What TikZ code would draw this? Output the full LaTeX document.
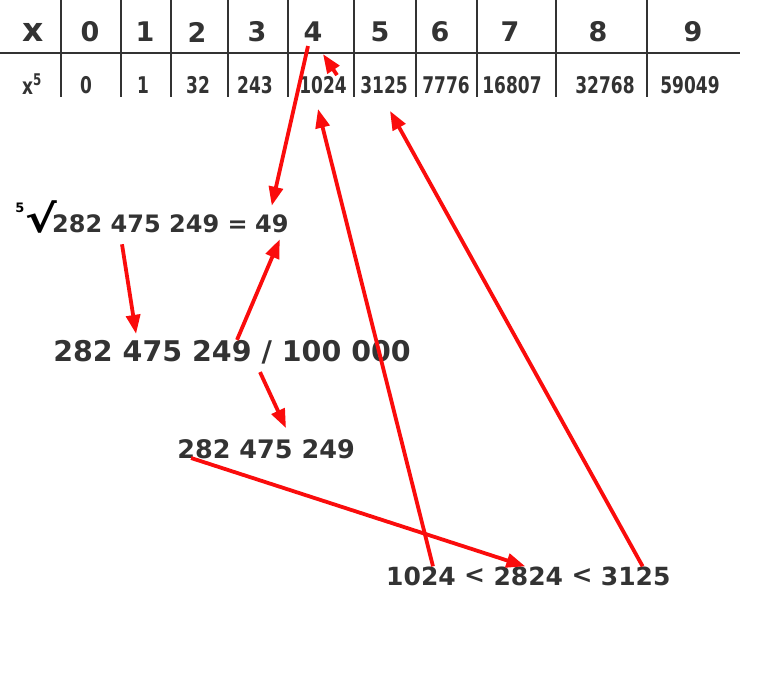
\documentclass[tikz,border=0pt]{standalone}
\usepackage{graphicx}
\usepackage{fontspec}
\setmainfont{DejaVu Sans}
\newfontfamily\cellfont{DejaVu Sans}[FakeStretch=0.74]
\usetikzlibrary{arrows.meta, positioning}
\definecolor{inkgray}{RGB}{51, 51, 51}
\definecolor{arrowred}{RGB}{250, 12, 12}

\begin{document}
\begin{tikzpicture}[x=1pt, y=-1pt, every node/.style={inner sep=0pt, text=inkgray, font=\bfseries}]
  \useasboundingbox (0,0) rectangle (761,680);
  \tikzset{
    headcell/.style={font=\fontsize{27}{30}\selectfont\bfseries},
    valcell/.style={font=\cellfont\fontsize{23}{26}\selectfont\bfseries},
    gridline/.style={draw=inkgray, line width=2.8pt},
    mathline/.style={font=\fontsize{25}{30}\selectfont\bfseries},
    link/.style={draw=arrowred, line width=3.8pt, -{Triangle[length=19pt, width=14pt]}}
  }

  % Table: x row
  \node[headcell, font=\fontsize{33}{36}\selectfont\bfseries] (hx) at (33,32) {x};
  \foreach \n/\px in {0/90, 1/145, 2/197, 3/257, 4/313, 5/380, 6/440, 7/510, 8/598, 9/693}
    \node[headcell] (h\n) at (\px,32) {\n};

  % Table: x^5 row
  \node[valcell] (vx) at (32,84) {x\textsuperscript{5}};
  \foreach \n/\px/\val in {0/86/0, 1/143/1, 2/198/32, 3/255/243, 4/323/1024, 5/384/3125, 6/446/7776, 7/512/16807, 8/605/32768, 9/690/59049}
    \node[valcell] (v\n) at (\px,85) {\val};

  % Table rules
  \draw[gridline, line width=2pt] (0,53) -- (740,53);
  \foreach \px in {61, 121, 171, 228, 288, 354, 416, 477, 556, 647}
    \draw[gridline] (\px,0) -- (\px,97);

  % Root line
  \node[mathline, font=\fontsize{24}{30}\selectfont\bfseries, anchor=west] (root) at (52,224) {282 475 249 =};
  \node[mathline, font=\fontsize{24}{30}\selectfont\bfseries, right=7pt of root] (res) {49};
  \node[text=black, font=\fontsize{38}{40}\selectfont\bfseries] (rad) at (41,217) {\scalebox{1.25}[1]{√}};
  \node[text=black, font=\fontsize{13}{14}\selectfont\bfseries] (deg) at (20,208) {5};

  % Division and truncation
  \node[mathline, font=\fontsize{28.5}{32}\selectfont\bfseries] (split) at (232,352) {282 475 249 / 100 000};
  \node[mathline, font=\fontsize{25.5}{30}\selectfont\bfseries] (trunc) at (266,449) {282 475 249};

  % Comparison
  \node[mathline, anchor=west] (lo) at (386,576) {1024};
  \node[mathline, right=8pt of lo] (lt1) {<};
  \node[mathline, right=8pt of lt1] (mid) {2824};
  \node[mathline, right=8pt of mid] (lt2) {<};
  \node[mathline, right=8pt of lt2] (hi) {3125};

  % Arrows
  \draw[link] ([xshift=-5pt, yshift=-4pt]h4.south) -- ([yshift=9pt]res.north);
  \draw[link] ([xshift=14pt, yshift=1pt]v4.north) -- ([xshift=10pt, yshift=-12pt]h4.south);
  \draw[link] ([xshift=12pt]lo.north) -- ([xshift=-5pt, yshift=-15pt]v4.south);
  \draw[link] ([xshift=7pt]hi.north) -- ([xshift=6pt, yshift=-17pt]v5.south);
  \draw[link] ([xshift=70pt, yshift=-11pt]root.south west) -- ([xshift=83pt, yshift=6pt]split.north west);
  \draw[link] ([xshift=5pt]split.north) -- ([xshift=8pt, yshift=-6pt]res.south);
  \draw[link] ([xshift=28pt, yshift=-8pt]split.south) -- ([xshift=20pt, yshift=11pt]trunc.north);
  \draw[link] ([xshift=14pt, yshift=-9pt]trunc.west) -- ([xshift=-3pt]mid.north);
\end{tikzpicture}
\end{document}
